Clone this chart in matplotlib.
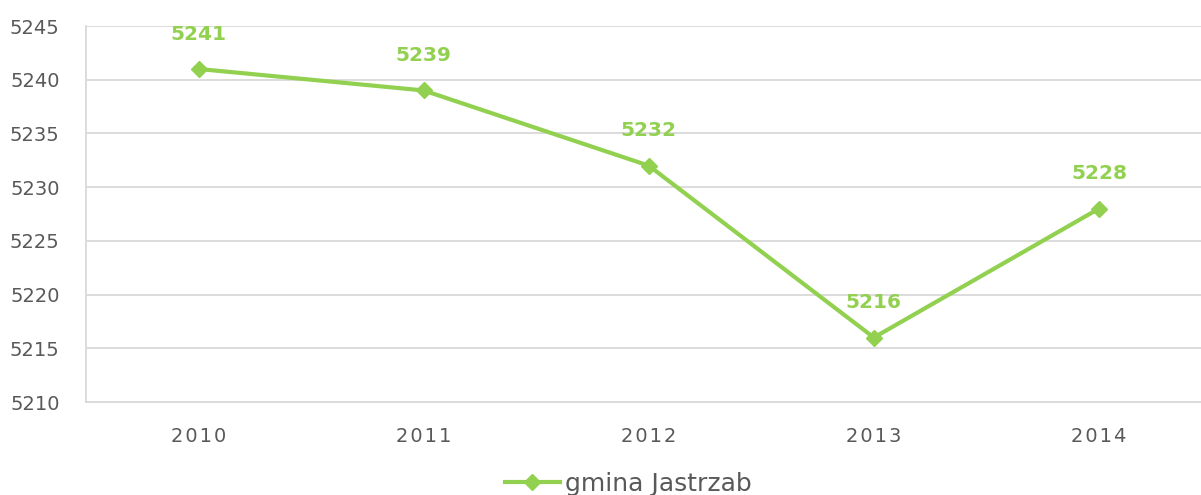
import matplotlib
matplotlib.use("Agg")
import matplotlib.pyplot as plt
from matplotlib.lines import Line2D

years = ["2010", "2011", "2012", "2013", "2014"]
values = [5241, 5239, 5232, 5216, 5228]
series_name = "gmina Jastrzab"
yticks = [5210, 5215, 5220, 5225, 5230, 5235, 5240, 5245]

green = "#92D050"
grid_c = "#D9D9D9"
text_c = "#595959"

plt.rcParams['font.family'] = ['DejaVu Sans']

fig = plt.figure(figsize=(12.01, 4.95), dpi=100)
ax = fig.add_axes([86/1201, 1-402/495, (1211.5-86)/1201, (402-26)/495])

x = list(range(len(years)))
ax.plot(x, values, color=green, lw=3, marker='D', markersize=8, zorder=3)
for xi, v in zip(x, values):
    ax.annotate(str(v), (xi, v), xytext=(0, 25), textcoords='offset points',
                ha='center', va='center', fontsize=14.5, fontweight='heavy', color=green)

ax.set_xlim(-0.5, len(years)-0.5)
ax.set_ylim(5210, 5245)
ax.set_yticks(yticks)
ax.set_xticks(x)
ax.set_xticklabels(["\u200a".join(y) for y in years])
ax.yaxis.grid(True, color=grid_c, lw=1.3)
ax.set_axisbelow(True)
for s in ['top', 'right']:
    ax.spines[s].set_visible(False)
for s in ['left', 'bottom']:
    ax.spines[s].set_color(grid_c)
    ax.spines[s].set_linewidth(1.3)
ax.tick_params(axis='both', length=0, colors=text_c, labelsize=14)
ax.tick_params(axis='y', pad=19)
ax.tick_params(axis='x', pad=18)

handle = Line2D([], [], color=green, lw=3, marker='D', markersize=8)
fig.legend([handle], [series_name], loc='center', bbox_to_anchor=(0.523, 0.022),
           frameon=False, fontsize=18, labelcolor=text_c, handlelength=2.2,
           handletextpad=0.2)

fig.savefig("out.png", dpi=100)
